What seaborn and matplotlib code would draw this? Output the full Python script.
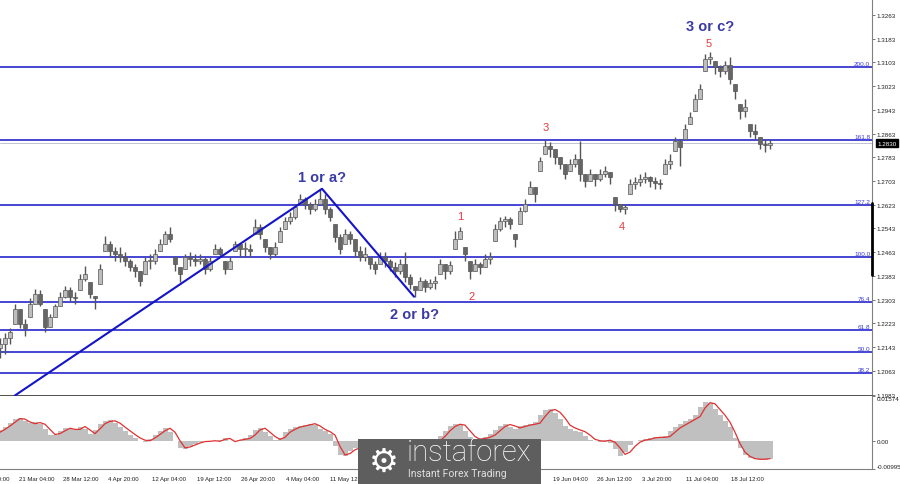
import numpy as np
import seaborn as sns
import matplotlib.pyplot as plt
import matplotlib.transforms as mtransforms
from matplotlib.patches import Rectangle

sns.set_theme(style='white')
plt.rcParams['font.family'] = ['Liberation Sans', 'DejaVu Sans']

# H4 bars (one entry per plotted candle)
highs = [
    1.2172, 1.2189, 1.2206, 1.2290, 1.2273, 1.2239, 1.2307, 1.2340, 1.2334, 1.2273,
    1.2256, 1.2290, 1.2330, 1.2350, 1.2347, 1.2330, 1.2391, 1.2418, 1.2364, 1.2317,
    1.2424, 1.2519, 1.2502, 1.2482, 1.2482, 1.2465, 1.2441, 1.2424, 1.2398, 1.2448,
    1.2458, 1.2475, 1.2509, 1.2536, 1.2549, 1.2448, 1.2414, 1.2458, 1.2465, 1.2458,
    1.2458, 1.2448, 1.2448, 1.2492, 1.2482, 1.2435, 1.2448, 1.2502, 1.2492, 1.2499,
    1.2492, 1.2576, 1.2559, 1.2509, 1.2482, 1.2499, 1.2549, 1.2583, 1.2600, 1.2627,
    1.2660, 1.2650, 1.2633, 1.2643, 1.2677, 1.2660, 1.2616, 1.2559, 1.2526, 1.2542,
    1.2536, 1.2509, 1.2485, 1.2482, 1.2448, 1.2435, 1.2465, 1.2465, 1.2441, 1.2431,
    1.2441, 1.2465, 1.2391, 1.2350, 1.2381, 1.2374, 1.2374, 1.2384, 1.2441, 1.2424,
    1.2435, 1.2536, 1.2549, 1.2482, 1.2435, 1.2441, 1.2431, 1.2458, 1.2465, 1.2559,
    1.2583, 1.2586, 1.2583, 1.2526, 1.2616, 1.2643, 1.2704, 1.2684, 1.2785, 1.2842,
    1.2835, 1.2812, 1.2785, 1.2761, 1.2778, 1.2795, 1.2839, 1.2728, 1.2744, 1.2728,
    1.2744, 1.2755, 1.2734, 1.2650, 1.2627, 1.2627, 1.2711, 1.2718, 1.2728, 1.2734,
    1.2721, 1.2718, 1.2711, 1.2778, 1.2795, 1.2852, 1.2846, 1.2896, 1.2936, 1.2997,
    1.3031, 1.3132, 1.3139, 1.3108, 1.3095, 1.3108, 1.3122, 1.3031, 1.2963, 1.2980,
    1.2896, 1.2896, 1.2852, 1.2846, 1.2846,
]
lows = [
    1.2105, 1.2121, 1.2155, 1.2222, 1.2206, 1.2182, 1.2246, 1.2290, 1.2280, 1.2195,
    1.2212, 1.2246, 1.2283, 1.2307, 1.2300, 1.2290, 1.2334, 1.2367, 1.2307, 1.2273,
    1.2357, 1.2468, 1.2448, 1.2435, 1.2431, 1.2418, 1.2398, 1.2381, 1.2350, 1.2391,
    1.2408, 1.2424, 1.2468, 1.2492, 1.2499, 1.2398, 1.2364, 1.2408, 1.2418, 1.2418,
    1.2424, 1.2391, 1.2401, 1.2458, 1.2448, 1.2391, 1.2408, 1.2468, 1.2448, 1.2448,
    1.2448, 1.2526, 1.2509, 1.2465, 1.2441, 1.2451, 1.2499, 1.2542, 1.2559, 1.2576,
    1.2627, 1.2610, 1.2593, 1.2603, 1.2627, 1.2593, 1.2569, 1.2499, 1.2458, 1.2492,
    1.2492, 1.2448, 1.2435, 1.2435, 1.2408, 1.2391, 1.2424, 1.2414, 1.2398, 1.2381,
    1.2391, 1.2364, 1.2340, 1.2313, 1.2334, 1.2330, 1.2340, 1.2340, 1.2391, 1.2374,
    1.2391, 1.2475, 1.2509, 1.2435, 1.2374, 1.2401, 1.2391, 1.2414, 1.2424, 1.2502,
    1.2536, 1.2549, 1.2542, 1.2482, 1.2559, 1.2600, 1.2660, 1.2633, 1.2738, 1.2795,
    1.2785, 1.2761, 1.2744, 1.2711, 1.2738, 1.2751, 1.2704, 1.2684, 1.2704, 1.2687,
    1.2704, 1.2718, 1.2694, 1.2603, 1.2600, 1.2593, 1.2660, 1.2677, 1.2687, 1.2697,
    1.2684, 1.2677, 1.2677, 1.2728, 1.2744, 1.2805, 1.2755, 1.2846, 1.2896, 1.2940,
    1.2980, 1.3074, 1.3098, 1.3064, 1.3054, 1.3064, 1.3031, 1.2980, 1.2913, 1.2920,
    1.2852, 1.2846, 1.2812, 1.2802, 1.2812,
]
closes = [
    1.2155, 1.2172, 1.2195, 1.2273, 1.2222, 1.2206, 1.2290, 1.2323, 1.2290, 1.2212,
    1.2246, 1.2280, 1.2313, 1.2334, 1.2313, 1.2307, 1.2374, 1.2391, 1.2323, 1.2307,
    1.2408, 1.2492, 1.2468, 1.2458, 1.2448, 1.2435, 1.2414, 1.2401, 1.2367, 1.2435,
    1.2435, 1.2458, 1.2492, 1.2526, 1.2509, 1.2424, 1.2391, 1.2448, 1.2441, 1.2435,
    1.2441, 1.2408, 1.2435, 1.2475, 1.2458, 1.2408, 1.2435, 1.2492, 1.2475, 1.2475,
    1.2468, 1.2549, 1.2526, 1.2482, 1.2458, 1.2482, 1.2536, 1.2569, 1.2583, 1.2616,
    1.2643, 1.2627, 1.2610, 1.2627, 1.2643, 1.2610, 1.2583, 1.2515, 1.2475, 1.2526,
    1.2509, 1.2468, 1.2448, 1.2458, 1.2424, 1.2408, 1.2448, 1.2435, 1.2414, 1.2401,
    1.2424, 1.2381, 1.2357, 1.2334, 1.2367, 1.2347, 1.2360, 1.2367, 1.2424, 1.2401,
    1.2421, 1.2509, 1.2536, 1.2458, 1.2401, 1.2424, 1.2414, 1.2441, 1.2448, 1.2542,
    1.2569, 1.2576, 1.2559, 1.2509, 1.2603, 1.2627, 1.2684, 1.2660, 1.2771, 1.2822,
    1.2812, 1.2785, 1.2761, 1.2728, 1.2761, 1.2778, 1.2728, 1.2704, 1.2728, 1.2711,
    1.2728, 1.2738, 1.2718, 1.2627, 1.2610, 1.2616, 1.2694, 1.2701, 1.2711, 1.2718,
    1.2704, 1.2697, 1.2694, 1.2761, 1.2771, 1.2839, 1.2819, 1.2879, 1.2920, 1.2980,
    1.3014, 1.3115, 1.3122, 1.3088, 1.3074, 1.3095, 1.3048, 1.3007, 1.2940, 1.2953,
    1.2872, 1.2862, 1.2829, 1.2825, 1.2830,
]
first_open = 1.2140

# MACD main (grey histogram) and signal (red line)
macd_hist = [
    0.0038, 0.0050, 0.0063, 0.0076, 0.0080, 0.0070, 0.0062, 0.0065, 0.0060, 0.0042,
    0.0020, 0.0020, 0.0033, 0.0044, 0.0042, 0.0038, 0.0050, 0.0040, 0.0024, 0.0038,
    0.0060, 0.0070, 0.0072, 0.0064, 0.0050, 0.0035, 0.0020, 0.0008, 0.0000, -0.0005,
    0.0006, 0.0020, 0.0034, 0.0045, 0.0032, 0.0000, -0.0025, -0.0030, -0.0020, -0.0010,
    -0.0004, -0.0002, 0.0000, -0.0002, 0.0004, 0.0008, -0.0002, 0.0000, 0.0004, 0.0008,
    0.0020, 0.0038, 0.0045, 0.0032, 0.0016, 0.0004, 0.0010, 0.0030, 0.0040, 0.0048,
    0.0053, 0.0057, 0.0060, 0.0056, 0.0042, 0.0033, 0.0022, -0.0018, -0.0050, -0.0055,
    -0.0035, -0.0024, -0.0030, -0.0030, -0.0025, -0.0020, -0.0022, -0.0026, -0.0028, -0.0025,
    -0.0032, -0.0036, -0.0040, -0.0030, -0.0020, -0.0012, -0.0005, 0.0002, 0.0016, 0.0036,
    0.0052, 0.0060, 0.0055, 0.0033, 0.0012, 0.0002, 0.0008, 0.0013, 0.0022, 0.0037,
    0.0052, 0.0058, 0.0050, 0.0043, 0.0052, 0.0057, 0.0060, 0.0066, 0.0090, 0.0108,
    0.0112, 0.0098, 0.0076, 0.0052, 0.0042, 0.0036, 0.0030, 0.0018, 0.0003, -0.0002,
    -0.0003, 0.0002, -0.0008, -0.0030, -0.0052, -0.0038, -0.0016, -0.0002, 0.0004, 0.0007,
    0.0011, 0.0013, 0.0014, 0.0018, 0.0034, 0.0050, 0.0058, 0.0068, 0.0078, 0.0090,
    0.0120, 0.0138, 0.0132, 0.0112, 0.0092, 0.0070, 0.0048, 0.0010, -0.0025, -0.0050,
    -0.0060, -0.0065, -0.0068, -0.0068, -0.0066,
]
macd_signal = [
    0.0030, 0.0040, 0.0052, 0.0065, 0.0078, 0.0076, 0.0066, 0.0060, 0.0064, 0.0058,
    0.0040, 0.0022, 0.0025, 0.0035, 0.0044, 0.0040, 0.0040, 0.0050, 0.0038, 0.0025,
    0.0042, 0.0060, 0.0068, 0.0070, 0.0062, 0.0048, 0.0035, 0.0022, 0.0010, 0.0002,
    0.0000, 0.0010, 0.0022, 0.0035, 0.0044, 0.0030, 0.0000, -0.0025, -0.0022, -0.0015,
    -0.0008, -0.0003, -0.0002, 0.0000, -0.0002, 0.0005, 0.0008, -0.0003, 0.0002, 0.0005,
    0.0008, 0.0020, 0.0038, 0.0044, 0.0030, 0.0015, 0.0005, 0.0012, 0.0030, 0.0040,
    0.0048, 0.0052, 0.0056, 0.0060, 0.0052, 0.0040, 0.0032, 0.0020, -0.0020, -0.0050,
    -0.0045, -0.0032, -0.0025, -0.0030, -0.0028, -0.0025, -0.0020, -0.0022, -0.0025, -0.0028,
    -0.0025, -0.0030, -0.0035, -0.0038, -0.0030, -0.0022, -0.0015, -0.0008, 0.0000, 0.0015,
    0.0035, 0.0050, 0.0058, 0.0055, 0.0035, 0.0015, 0.0005, 0.0008, 0.0012, 0.0020,
    0.0035, 0.0050, 0.0057, 0.0052, 0.0045, 0.0050, 0.0055, 0.0058, 0.0062, 0.0085,
    0.0105, 0.0110, 0.0100, 0.0080, 0.0055, 0.0045, 0.0038, 0.0032, 0.0020, 0.0005,
    0.0000, -0.0002, 0.0002, -0.0005, -0.0025, -0.0048, -0.0040, -0.0020, -0.0005, 0.0002,
    0.0005, 0.0010, 0.0012, 0.0012, 0.0015, 0.0030, 0.0045, 0.0055, 0.0065, 0.0075,
    0.0085, 0.0115, 0.0134, 0.0130, 0.0110, 0.0090, 0.0065, 0.0030, -0.0010, -0.0040,
    -0.0055, -0.0063, -0.0065, -0.0065, -0.0063,
]

fib_names = ['38.2', '50.0', '61.8', '76.4', '100.0', '127.2', '161.8', '200.0']
fib_prices = [1.2057, 1.2128, 1.2202, 1.2296, 1.2448, 1.2623, 1.2842, 1.3088]

price_ticks = [1.1983, 1.2063, 1.2143, 1.2223, 1.2303, 1.2383, 1.2463, 1.2543, 1.2623,
               1.2703, 1.2783, 1.2863, 1.2943, 1.3023, 1.3103, 1.3183, 1.3263]
macd_ticks = [0.01574, 0.0, -0.00995]
macd_tick_labels = ['0.01574', '0.00', '-0.00995']
# labels hidden behind the logo box are left as empty strings
date_labels = ['14 Mar 20:00', '21 Mar 04:00', '28 Mar 12:00', '4 Apr 20:00', '12 Apr 04:00',
               '19 Apr 12:00', '26 Apr 20:00', '4 May 04:00', '11 May 12:00', '', '', '', '',
               '19 Jun 04:00', '26 Jun 12:00', '3 Jul 20:00', '11 Jul 04:00', '18 Jul 12:00']
last_price = 1.2830

# wave markup: trend line and a-b leg (bar index, price)
wave_x = [3.0, 64.4, 82.8]
wave_y = [1.1980, 1.2677, 1.2313]
wave_labels = [('1 or a?', 64.4, 1.2717), ('2 or b?', 83.0, 1.2253), ('3 or c?', 142.0, 1.3226)]
count_labels = [('1', 92.0, 1.2586), ('2', 94.4, 1.2317), ('3', 109.2, 1.2886),
                ('4', 124.4, 1.2552), ('5', 141.8, 1.3169)]

bars = np.arange(len(closes))
highs = np.array(highs)
lows = np.array(lows)
closes = np.array(closes)
opens = np.clip(np.r_[first_open, closes[:-1]], lows, highs)

fig = plt.figure(figsize=(9, 4.85), dpi=100)
fig.patch.set_facecolor('white')
ax = fig.add_axes([0.0, 0.1814, 0.9689, 0.8186])
ax2 = fig.add_axes([0.0, 0.0309, 0.9689, 0.1505])
for a in (ax, ax2):
    a.set_facecolor('white')
    a.set_xlim(0, 174.4)

BLUE = '#1414c8'
GREY = '#555555'

# fibonacci levels
ytrans = mtransforms.blended_transform_factory(ax.transAxes, ax.transData)
for name, lvl in zip(fib_names, fib_prices):
    ax.axhline(lvl, color=BLUE, lw=1.1, zorder=1)
    ax.text(0.998, lvl + 0.0003, name, transform=ytrans,
            ha='right', va='bottom', fontsize=4.6, color='#3a3ad8')
ax.axhline(last_price, color='#b8b8cc', lw=0.6, zorder=1)

# candles
ax.vlines(bars, lows, highs, color=GREY, lw=1.0, zorder=3)
bull = closes >= opens
body_h = np.maximum(np.abs(closes - opens), 0.00015)
ax.bar(bars, body_h, bottom=np.minimum(opens, closes), width=0.72,
       color=np.where(bull, '#bdbdbd', '#666666'), edgecolor=GREY, linewidth=0.5, zorder=4)

# wave lines
sns.lineplot(x=wave_x, y=wave_y, ax=ax, color=BLUE, lw=1.5, sort=False, zorder=5)

for txt, xb, yp in wave_labels:
    ax.text(xb, yp, txt, ha='center', va='center', fontsize=10.5, fontweight='bold', color='#3b3ba6', zorder=6)
for txt, xb, yp in count_labels:
    ax.text(xb, yp, txt, ha='center', va='center', fontsize=8, color='#e53b3b', zorder=6)

ax.set_ylim(1.1978, 1.3317)
ax.yaxis.tick_right()
ax.set_yticks(price_ticks)
ax.set_yticklabels([f'{p:.4f}' for p in price_ticks])
ax.tick_params(axis='y', labelsize=4.5, length=2, width=0.6, color='#606060', pad=1.5, labelcolor='#202020')
ax.set_xticks([])
ax.set_xlabel('')
ax.set_ylabel('')
for s in ('top', 'left'):
    ax.spines[s].set_visible(False)
ax.spines['right'].set_color('#808080')
ax.spines['right'].set_linewidth(0.8)
ax.spines['bottom'].set_color('#505050')
ax.spines['bottom'].set_linewidth(1.4)

# current price box and right-edge marker
ax.text(1.006, last_price, f'{last_price:.4f}', transform=ytrans, ha='left', va='center', fontsize=4.5,
        color='white', clip_on=False, zorder=10,
        bbox=dict(boxstyle='square,pad=0.25', fc='black', ec='black'))
ax.plot([1.0, 1.0], [1.2385, 1.2630], transform=ytrans, color='black', lw=2.0, clip_on=False, zorder=9)

# MACD panel
ax2.bar(bars, macd_hist, width=1.0, color='#c0c0c0', linewidth=0, zorder=2)
sns.lineplot(x=bars, y=macd_signal, ax=ax2, color='#e03030', lw=0.9, zorder=3)
ax2.set_ylim(-0.00995, 0.01574)
ax2.yaxis.tick_right()
ax2.set_yticks(macd_ticks)
ax2.set_yticklabels(macd_tick_labels)
ax2.tick_params(axis='y', labelsize=4.5, length=2, width=0.6, color='#606060', pad=1.5, labelcolor='#202020')
ylabels = ax2.get_yticklabels()
ylabels[0].set_va('top')
ylabels[2].set_va('bottom')
ax2.set_ylabel('')
ax2.set_xlabel('')

tick_pos = np.arange(len(date_labels)) * 8.9 - 5.2
ax2.set_xticks(tick_pos[tick_pos > 0])
ax2.set_xticklabels([])
ax2.tick_params(axis='x', length=2, width=0.6, color='#606060')
xtrans = mtransforms.blended_transform_factory(ax2.transData, ax2.transAxes)
for pos, lab in zip(tick_pos, date_labels):
    if lab:
        ax2.text(pos, -0.09, lab, transform=xtrans, ha='left', va='top', fontsize=4.3,
                 color='#202020', clip_on=False, zorder=1)
for s in ('top', 'left'):
    ax2.spines[s].set_visible(False)
ax2.spines['right'].set_color('#808080')
ax2.spines['right'].set_linewidth(0.8)
ax2.spines['bottom'].set_color('#808080')
ax2.spines['bottom'].set_linewidth(0.8)

# watermark logo box
fig.patches.append(Rectangle((0.398, 0.0), 0.203, 0.093, transform=fig.transFigure,
                             facecolor='#5e5e5e', edgecolor='none', zorder=20))
fig.text(0.4267, 0.047, '\u2699', ha='center', va='center', fontsize=24, color='white',
         family='DejaVu Sans', zorder=21)
fig.text(0.452, 0.066, 'instaforex', ha='left', va='center', fontsize=21, color='white',
         family='Roboto', fontweight='light', zorder=21)
fig.text(0.453, 0.022, 'Instant Forex Trading', ha='left', va='center', fontsize=7.5,
         color='#e0e0e0', family='Roboto', zorder=21)

fig.savefig('out.png', dpi=100, facecolor='white')
